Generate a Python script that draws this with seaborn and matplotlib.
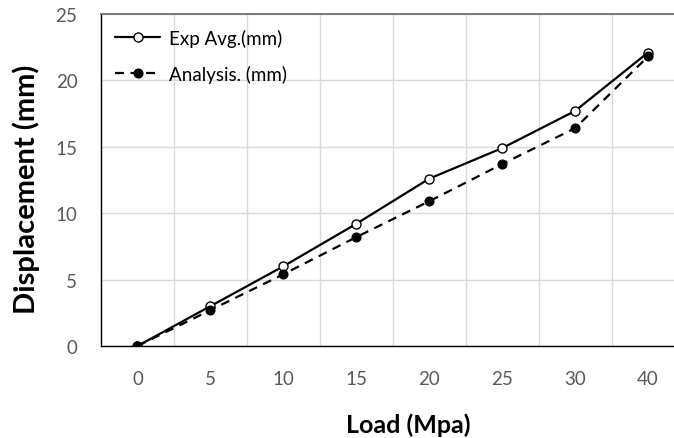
import matplotlib
matplotlib.use("Agg")
import matplotlib.pyplot as plt
import seaborn as sns
import pandas as pd
import numpy as np

# Load steps (MPa) and measured / predicted displacement (mm)
loads = ["0", "5", "10", "15", "20", "25", "30", "40"]
exp_avg = [0.0, 3.0, 6.0, 9.2, 12.6, 14.9, 17.7, 22.1]
analysis = [0.0, 2.7, 5.4, 8.2, 10.9, 13.7, 16.4, 21.8]
y_ticks = [0, 5, 10, 15, 20, 25]

sns.set_theme(style="white")
plt.rcParams["font.family"] = ["Lato", "DejaVu Sans"]

df = pd.DataFrame({"pos": np.arange(len(loads)), "exp": exp_avg, "ana": analysis})

fig = plt.figure(figsize=(6.74, 4.39), dpi=100)
ax = fig.add_axes([101 / 674, 92 / 439, 583.5 / 674, 332 / 439])

sns.lineplot(data=df, x="pos", y="exp", ax=ax, color="black", linewidth=1.6,
             marker="o", markersize=6.5, markerfacecolor="white",
             markeredgecolor="black", markeredgewidth=1.0,
             label="Exp Avg.(mm)", sort=False, zorder=3)
sns.lineplot(data=df, x="pos", y="ana", ax=ax, color="black", linewidth=1.6,
             linestyle=(0, (4, 3)), marker="o", markersize=6.5,
             markerfacecolor="black", markeredgecolor="black",
             label="Analysis. (mm)", sort=False, zorder=3)

ax.set_xlim(-0.5, len(loads) - 0.5)
ax.set_ylim(0, 25)
ax.set_xticks(np.arange(len(loads)))
ax.set_xticklabels(loads)
ax.set_xticks(np.arange(len(loads)) + 0.5, minor=True)
ax.set_yticks(y_ticks)

ax.grid(False)
ax.grid(axis="y", which="major", color="#d9d9d9", linewidth=1.0, zorder=0)
ax.grid(axis="x", which="minor", color="#d9d9d9", linewidth=1.0, zorder=0)
ax.set_axisbelow(True)

ax.tick_params(axis="both", which="both", length=0, labelsize=13.5, labelcolor="#595959")
ax.tick_params(axis="x", pad=17)
ax.tick_params(axis="y", pad=17)

for side in ["left", "bottom"]:
    ax.spines[side].set_color("black")
    ax.spines[side].set_linewidth(1.0)
ax.spines["top"].set_color("#666666")
ax.spines["top"].set_linewidth(1.2)
ax.spines["right"].set_visible(False)

ax.set_xlabel("Load (Mpa)", fontsize=18, fontweight="bold", color="black")
ax.set_ylabel("Displacement (mm)", fontsize=21, fontweight="bold", color="black")
ax.xaxis.set_label_coords(0.526, -0.2)
ax.yaxis.set_label_coords(-0.105, 0.474)

leg = ax.legend(loc="upper left", bbox_to_anchor=(0.005, 0.99), frameon=False,
                fontsize=13.5, handlelength=2.4, handletextpad=0.45,
                labelspacing=0.95, borderaxespad=0.2)
for t in leg.get_texts():
    t.set_color("black")

fig.savefig("out.png", dpi=100)
